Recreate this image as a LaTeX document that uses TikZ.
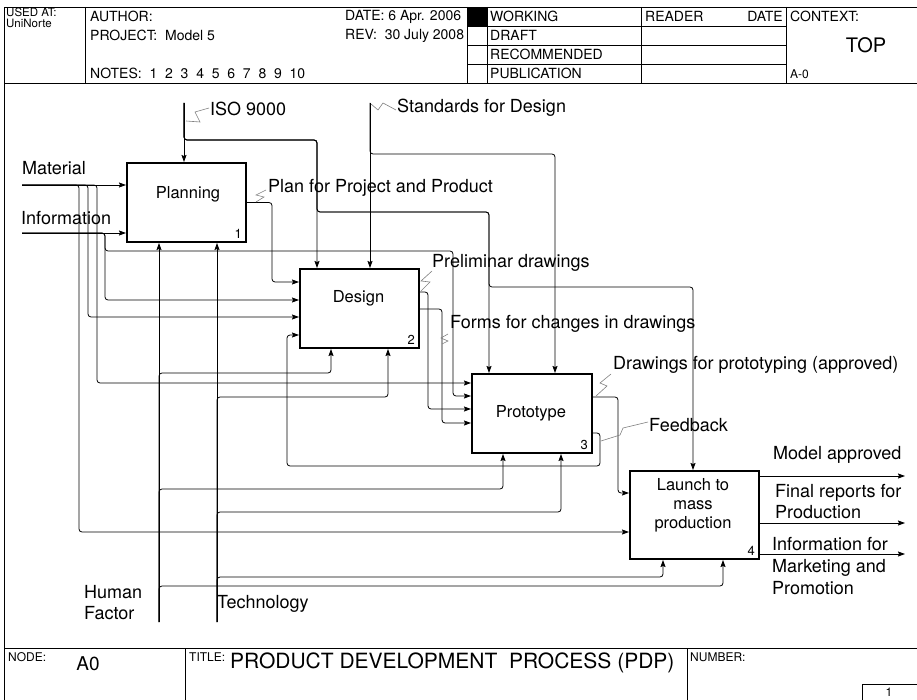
\documentclass[tikz,border=0pt]{standalone}
\usepackage{fontspec}
\setmainfont{TeX Gyre Heros}
\usetikzlibrary{arrows.meta,positioning}

\begin{document}
\begin{tikzpicture}[x=1pt,y=-1pt,
  every node/.style={font=\fontsize{18}{21}\selectfont, inner sep=0pt},
  fbox/.style={draw, line width=2pt, minimum width=119pt, minimum height=79pt},
  boxtxt/.style={font=\fontsize{16.5}{19}\selectfont, align=center},
  numtxt/.style={font=\fontsize{13}{14}\selectfont, anchor=south east},
  lbl/.style={anchor=west, align=left},
  hdr/.style={font=\fontsize{14}{15}\selectfont, anchor=west},
  small/.style={font=\fontsize{12}{13}\selectfont, anchor=west},
  flow/.style={line width=0.8pt, rounded corners=3pt, -{Stealth[length=7pt,width=5pt,inset=1pt]}},
  zig/.style={gray, line width=0.6pt},
  frm/.style={line width=0.9pt}]
\useasboundingbox (0,0) rectangle (917,700);

% form frame
\draw[frm] (917,7) -- (4,7) -- (4,700);
\draw[frm] (4,83) -- (917,83);
\draw[frm] (85,7) -- (85,83);
\draw[frm] (467,7) -- (467,83);
\draw[frm] (487,7) -- (487,83);
\draw[frm] (641,7) -- (641,83);
\draw[frm] (786,7) -- (786,83);
\foreach \yy in {26,45,64} \draw[frm] (467,\yy) -- (786,\yy);
\fill (467,7) rectangle (487,26);
\draw[frm] (4,648) -- (917,648);
\draw[frm] (185,648) -- (185,700);
\draw[frm] (687,648) -- (687,700);
\draw[frm] (862,700) -- (862,684) -- (917,684);

\node[hdr, font=\fontsize{11.5}{12}\selectfont] (usedat) at (6,12.5) {USED AT:};
\node[hdr, font=\fontsize{11.5}{12}\selectfont] (usedby) at (6,23.5) {UniNorte};
\node[hdr] (author) at (90,16.5) {AUTHOR:};
\node[hdr] (project) at (90,35.5) {PROJECT:\ \ Model 5};
\node[hdr] (notes) at (90,73.5) {NOTES:\ \ 1\ \ 2\ \ 3\ \ 4\ \ 5\ \ 6\ \ 7\ \ 8\ \ 9\ \ 10};
\node[hdr] (date) at (345,16.5) {DATE:\ 6 Apr. 2006};
\node[hdr] (rev) at (345,35.5) {REV:\ \ 30 July 2008};
\node[hdr] (working) at (490,16.5) {WORKING};
\node[hdr] (draft) at (490,35.5) {DRAFT};
\node[hdr] (recom) at (490,54.5) {RECOMMENDED};
\node[hdr] (publ) at (490,73.5) {PUBLICATION};
\node[hdr] (reader) at (645,16.5) {READER};
\node[hdr, anchor=east] (rdate) at (783,16.5) {DATE};
\node[hdr] (context) at (790,16.5) {CONTEXT:};
\node[font=\fontsize{20}{22}\selectfont] (top) at (866,45) {TOP};
\node[small] (ctxnode) at (790,74) {A-0};

\node[small] (nodelbl) at (8,657) {NODE:};
\node[font=\fontsize{19}{21}\selectfont] (nodeno) at (88,664) {A0};
\node[small] (titlelbl) at (189,657) {TITLE:};
\node[font=\fontsize{21}{23}\selectfont, anchor=west] (title) at (230,663) {PRODUCT DEVELOPMENT\ \ PROCESS (PDP)};
\node[small] (numlbl) at (690,657) {NUMBER:};
\node[small, anchor=center] (pageno) at (889,692) {1};

% activity boxes
\node[fbox] (plan) at (186.5,202.5) {};
\node[fbox] (des) at (359.5,308.5) {};
\node[fbox, minimum width=120pt] (proto) at (532,413.5) {};
\node[fbox, minimum width=129pt, minimum height=88pt] (launch) at (694.5,515) {};
\node[boxtxt] (tplan) at (188,194) {Planning};
\node[boxtxt] (tdes) at (358.5,298) {Design};
\node[boxtxt] (tproto) at (531,413) {Prototype};
\node[boxtxt] (tlaunch) at (693,505) {Launch to\\mass\\production};
\node[numtxt] (n1) at ([xshift=-5pt,yshift=4pt]plan.south east) {1};
\node[numtxt] (n2) at ([xshift=-5pt,yshift=4pt]des.south east) {2};
\node[numtxt] (n3) at ([xshift=-5pt,yshift=4pt]proto.south east) {3};
\node[numtxt] (n4) at ([xshift=-5pt,yshift=4pt]launch.south east) {4};

% free ends
\coordinate (mat) at (22,185);
\coordinate (info) at (22,233);
\coordinate (iso) at (184,103);
\coordinate (std) at (370,103);
\coordinate (hum) at (159,622);
\coordinate (tech) at (217,622);
\coordinate (outM) at (905,476);
\coordinate (outF) at (905,523);
\coordinate (outI) at (905,554);

% inputs
\draw[flow] (mat) -- (mat -| plan.west);
\draw[flow] (mat) -| (79,532) -- (launch.west |- 0,532);
\draw[flow] (mat) -| (88,317) -- (des.west |- 0,317);
\draw[flow] (mat) -| (97,383) -- (proto.west |- 0,383);
\draw[flow] (info) -- (info -| plan.west);
\draw[flow] (info) -| (105,300) -- (des.west |- 0,300);
\draw[flow] (info) -| (105,251) -| (453,396) -- (proto.west |- 0,396);

% controls
\draw[flow] (iso) -- (iso |- plan.north);
\draw[flow] (iso) |- (317,140) -- (317,0 |- des.north);
\draw[flow] (iso) |- (317,140) |- (489,212) -- (489,0 |- proto.north);
\draw[flow] (iso) |- (317,140) |- (489,212) |- (693,287) -- (693,0 |- launch.north);
\draw[flow] (std) -- (std |- des.north);
\draw[flow] (std) |- (555,154) -- (555,0 |- proto.north);

% mechanisms
\draw[flow] (hum) -- (hum |- plan.south);
\draw[flow] (hum) |- (331,373) -- (331,0 |- des.south);
\draw[flow] (hum) |- (503,489) -- (503,0 |- proto.south);
\draw[flow] (hum) |- (723,586) -- (723,0 |- launch.south);
\draw[flow] (tech) -- (tech |- plan.south);
\draw[flow] (tech) |- (388,397) -- (388,0 |- des.south);
\draw[flow] (tech) |- (561,512) -- (561,0 |- proto.south);
\draw[flow] (tech) |- (663,577) -- (663,0 |- launch.south);

% outputs
\draw[flow] (plan.east) -| (272,282) -- (des.west |- 0,282);
\draw[flow] (des.east |- 0,292) -| (428,409) -- (proto.west |- 0,409);
\draw[flow] (des.east |- 0,309) -| (442,423) -- (proto.west |- 0,423);
\draw[flow] (proto.east |- 0,397) -| (618,493) -- (launch.west |- 0,493);
\draw[flow] (proto.east |- 0,433) -| (600,466) -| (287,335) -- (des.west |- 0,335);
\draw[flow] (launch.east |- outM) -- (outM);
\draw[flow] (launch.east |- outF) -- (outF);
\draw[flow] (launch.east |- outI) -- (outI);

% arrow labels
\node[lbl] (lmat) at (22,168) {Material};
\node[lbl] (linfo) at (21,218) {Information};
\node[lbl] (liso) at (210,109) {ISO 9000};
\node[lbl] (lstd) at (397,108) {Standards for Design};
\node[lbl] (lplan) at (268,188) {Plan for Project and Product};
\node[lbl] (lprel) at (432,263) {Preliminar drawings};
\node[lbl] (lforms) at (450,324) {Forms for changes in drawings};
\node[lbl] (lappr) at (613,365) {Drawings for prototyping (approved)};
\node[lbl] (lfeed) at (649,425) {Feedback};
\node[lbl] (lmodel) at (773,455) {Model approved};
\node[lbl] (lfinal) at (775,501.5) {Final reports for\\Production};
\node[lbl, font=\fontsize{18}{22}\selectfont] (lmkt) at (772,566) {Information for\\Marketing and\\Promotion};
\node[lbl] (lhum) at (84,602.5) {Human\\Factor};
\node[lbl] (ltech) at (217,604) {Technology};

% squiggles
\draw[zig] (186,121) -- (200,122) -- (195,112) -- (209,108);
\draw[zig] (371,104) -- (378,110) -- (383,103) -- (396,110);
\draw[zig] (266,190) -- (256,195) -- (264,197) -- (256,202);
\draw[zig] (432,271) -- (421,281) -- (430,282) -- (421,291);
\draw[zig] (442,344) -- (448,341) -- (441,338) -- (448,334);
\draw[zig] (611,374) -- (600,383) -- (607,386) -- (596,396);
\draw[zig] (601,441) -- (620,435) -- (623,428) -- (648,422);
\end{tikzpicture}
\end{document}
